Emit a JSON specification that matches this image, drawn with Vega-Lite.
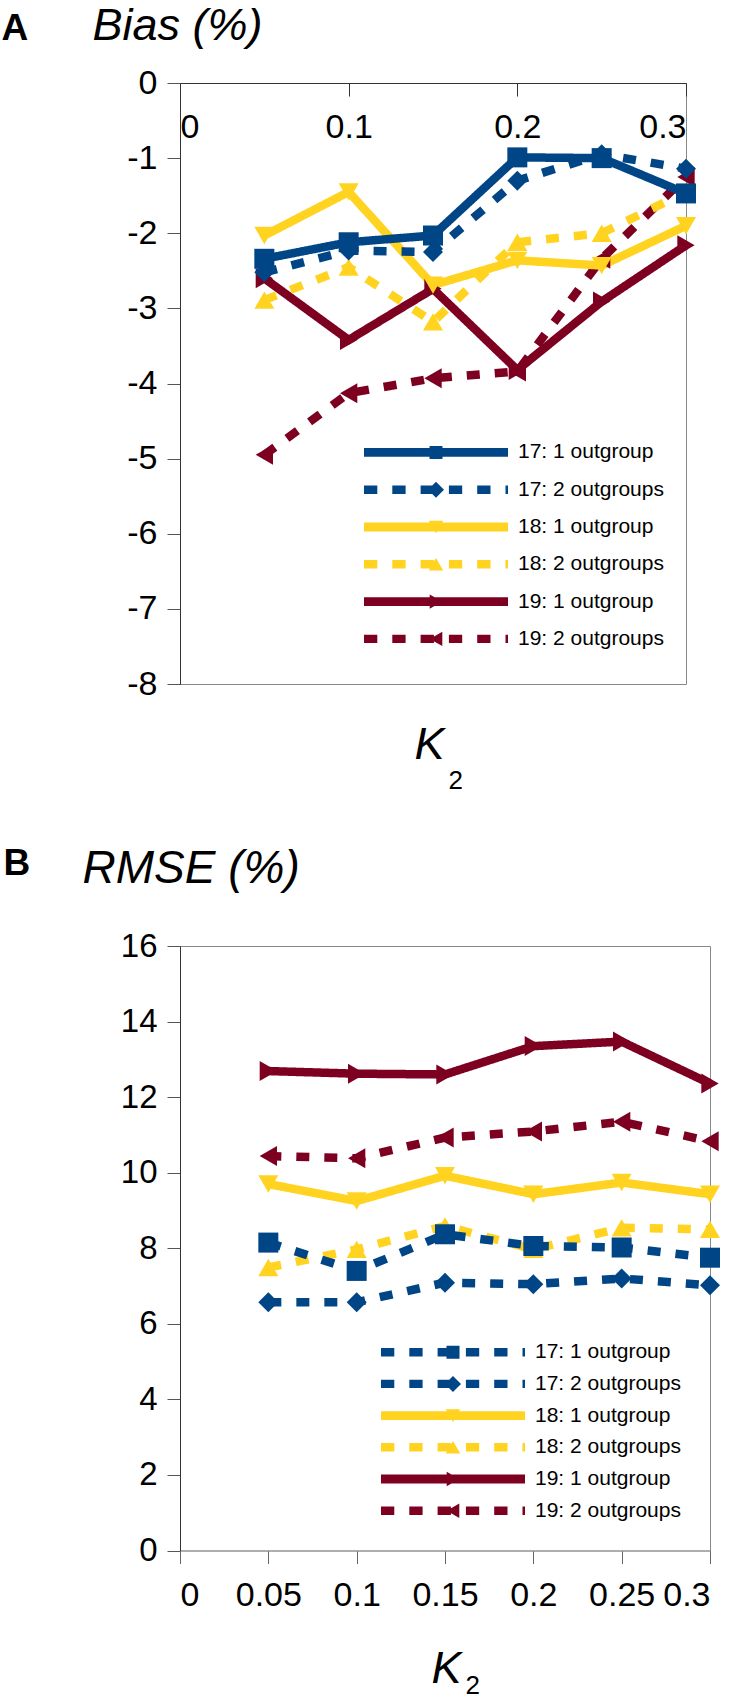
{
  "$schema": "https://vega.github.io/schema/vega-lite/v6.json",
  "padding": {"left": 0, "top": 2, "right": 0, "bottom": 0},
  "spacing": 49,
  "align": "none",
  "resolve": {"scale": {"color": "independent", "strokeDash": "independent", "shape": "independent"}, "legend": {"color": "independent", "strokeDash": "independent", "shape": "independent"}},
  "config": {
    "font": "Liberation Sans",
    "view": {"stroke": "#888888", "strokeWidth": 1},
    "axis": {"grid": false, "labelFont": "Liberation Sans", "labelColor": "#000000", "titleColor": "#000000", "domainColor": "#333333", "tickColor": "#555555", "tickSize": 13, "labelFontSize": 34, "domainWidth": 1, "tickWidth": 1, "titleFont": "Liberation Sans"},
    "legend": {"labelFont": "Liberation Sans", "labelFontSize": 21, "labelColor": "#000000"}
  },
  "datasets": {
    "bias": [
      {"k": 0.05, "series": "19: 2 outgroups", "value": -4.95}, {"k": 0.1, "series": "19: 2 outgroups", "value": -4.13}, {"k": 0.15, "series": "19: 2 outgroups", "value": -3.93}, {"k": 0.2, "series": "19: 2 outgroups", "value": -3.84}, {"k": 0.25, "series": "19: 2 outgroups", "value": -2.34}, {"k": 0.3, "series": "19: 2 outgroups", "value": -1.25},
      {"k": 0.05, "series": "19: 1 outgroup", "value": -2.6}, {"k": 0.1, "series": "19: 1 outgroup", "value": -3.42}, {"k": 0.15, "series": "19: 1 outgroup", "value": -2.74}, {"k": 0.2, "series": "19: 1 outgroup", "value": -3.82}, {"k": 0.25, "series": "19: 1 outgroup", "value": -2.91}, {"k": 0.3, "series": "19: 1 outgroup", "value": -2.16},
      {"k": 0.05, "series": "18: 2 outgroups", "value": -2.89}, {"k": 0.1, "series": "18: 2 outgroups", "value": -2.45}, {"k": 0.15, "series": "18: 2 outgroups", "value": -3.18}, {"k": 0.2, "series": "18: 2 outgroups", "value": -2.12}, {"k": 0.25, "series": "18: 2 outgroups", "value": -2.0}, {"k": 0.3, "series": "18: 2 outgroups", "value": -1.45},
      {"k": 0.05, "series": "18: 1 outgroup", "value": -2.03}, {"k": 0.1, "series": "18: 1 outgroup", "value": -1.45}, {"k": 0.15, "series": "18: 1 outgroup", "value": -2.69}, {"k": 0.2, "series": "18: 1 outgroup", "value": -2.36}, {"k": 0.25, "series": "18: 1 outgroup", "value": -2.43}, {"k": 0.3, "series": "18: 1 outgroup", "value": -1.9},
      {"k": 0.05, "series": "17: 2 outgroups", "value": -2.52}, {"k": 0.1, "series": "17: 2 outgroups", "value": -2.23}, {"k": 0.15, "series": "17: 2 outgroups", "value": -2.25}, {"k": 0.2, "series": "17: 2 outgroups", "value": -1.3}, {"k": 0.25, "series": "17: 2 outgroups", "value": -0.95}, {"k": 0.3, "series": "17: 2 outgroups", "value": -1.14},
      {"k": 0.05, "series": "17: 1 outgroup", "value": -2.34}, {"k": 0.1, "series": "17: 1 outgroup", "value": -2.12}, {"k": 0.15, "series": "17: 1 outgroup", "value": -2.03}, {"k": 0.2, "series": "17: 1 outgroup", "value": -0.99}, {"k": 0.25, "series": "17: 1 outgroup", "value": -1.0}, {"k": 0.3, "series": "17: 1 outgroup", "value": -1.47}
    ],
    "rmse": [
      {"k": 0.05, "series": "19: 2 outgroups", "value": 10.44}, {"k": 0.1, "series": "19: 2 outgroups", "value": 10.38}, {"k": 0.15, "series": "19: 2 outgroups", "value": 10.93}, {"k": 0.2, "series": "19: 2 outgroups", "value": 11.09}, {"k": 0.25, "series": "19: 2 outgroups", "value": 11.35}, {"k": 0.3, "series": "19: 2 outgroups", "value": 10.83},
      {"k": 0.05, "series": "19: 1 outgroup", "value": 12.69}, {"k": 0.1, "series": "19: 1 outgroup", "value": 12.62}, {"k": 0.15, "series": "19: 1 outgroup", "value": 12.6}, {"k": 0.2, "series": "19: 1 outgroup", "value": 13.35}, {"k": 0.25, "series": "19: 1 outgroup", "value": 13.47}, {"k": 0.3, "series": "19: 1 outgroup", "value": 12.36},
      {"k": 0.05, "series": "18: 2 outgroups", "value": 7.49}, {"k": 0.1, "series": "18: 2 outgroups", "value": 7.97}, {"k": 0.15, "series": "18: 2 outgroups", "value": 8.59}, {"k": 0.2, "series": "18: 2 outgroups", "value": 7.97}, {"k": 0.25, "series": "18: 2 outgroups", "value": 8.54}, {"k": 0.3, "series": "18: 2 outgroups", "value": 8.5},
      {"k": 0.05, "series": "18: 1 outgroup", "value": 9.7}, {"k": 0.1, "series": "18: 1 outgroup", "value": 9.25}, {"k": 0.15, "series": "18: 1 outgroup", "value": 9.92}, {"k": 0.2, "series": "18: 1 outgroup", "value": 9.43}, {"k": 0.25, "series": "18: 1 outgroup", "value": 9.74}, {"k": 0.3, "series": "18: 1 outgroup", "value": 9.43},
      {"k": 0.05, "series": "17: 2 outgroups", "value": 6.57}, {"k": 0.1, "series": "17: 2 outgroups", "value": 6.57}, {"k": 0.15, "series": "17: 2 outgroups", "value": 7.09}, {"k": 0.2, "series": "17: 2 outgroups", "value": 7.05}, {"k": 0.25, "series": "17: 2 outgroups", "value": 7.2}, {"k": 0.3, "series": "17: 2 outgroups", "value": 7.02},
      {"k": 0.05, "series": "17: 1 outgroup", "value": 8.15}, {"k": 0.1, "series": "17: 1 outgroup", "value": 7.4}, {"k": 0.15, "series": "17: 1 outgroup", "value": 8.37}, {"k": 0.2, "series": "17: 1 outgroup", "value": 8.06}, {"k": 0.25, "series": "17: 1 outgroup", "value": 8.02}, {"k": 0.3, "series": "17: 1 outgroup", "value": 7.75}
    ]
  },
  "vconcat": [
    {
      "width": 506,
      "height": 601,
      "data": {"name": "bias"},
      "resolve": {"axis": {"x": "independent", "y": "independent"}},
      "layer": [
        {
          "mark": {"type": "line", "strokeWidth": 8.5, "strokeCap": "butt", "strokeJoin": "miter"},
          "encoding": {
            "x": {"field": "k", "type": "quantitative", "scale": {"domain": [0, 0.3], "nice": false, "zero": false},
              "axis": {"orient": "bottom", "offset": -601, "values": [0, 0.1, 0.2, 0.3], "labelExpr": "'' + datum.value", "labelPadding": 14, "labelBaseline": "top", "domainColor": "#333333", "tickColor": "#333333",
                "title": "K", "titleFontStyle": "italic", "titleFontWeight": "normal", "titleFontSize": 45, "titleX": 234, "titleY": 675, "titleAlign": "left", "titleBaseline": "alphabetic", "titleAngle": 0}},
            "y": {"field": "value", "type": "quantitative", "scale": {"domain": [-8, 0], "nice": false, "zero": false},
              "axis": {"values": [0, -1, -2, -3, -4, -5, -6, -7, -8], "labelExpr": "'' + datum.value", "labelPadding": 10,
                "title": "Bias (%)", "titleFontStyle": "italic", "titleFontWeight": "normal", "titleFontSize": 45, "titleX": -88, "titleY": -44, "titleAlign": "left", "titleBaseline": "alphabetic", "titleAngle": 0}},
            "detail": {"field": "series"},
            "color": {"field": "series", "type": "nominal",
              "scale": {"domain": ["19: 2 outgroups", "19: 1 outgroup", "18: 2 outgroups", "18: 1 outgroup", "17: 2 outgroups", "17: 1 outgroup"], "range": ["#7e0021", "#7e0021", "#ffd320", "#ffd320", "#004586", "#004586"]},
              "legend": null},
            "strokeDash": {"field": "series", "type": "nominal",
              "scale": {"domain": ["17: 1 outgroup", "17: 2 outgroups", "18: 1 outgroup", "18: 2 outgroups", "19: 1 outgroup", "19: 2 outgroups"], "range": [[1, 0], [13, 15], [1, 0], [13, 15], [1, 0], [13, 15]]},
              "legend": {"orient": "none", "legendX": 184, "legendY": 357.4, "title": null, "padding": 0, "symbolSize": 576, "symbolStrokeWidth": 0, "labelOffset": 130, "rowPadding": 15.3, "labelLimit": 400, "labelFontSize": 21,
                "encode": {"symbols": {"update": {
                  "shape": {"signal": "datum.value === '17: 1 outgroup' ? 'M-1,-0.372H11V0.372H-1ZM4.458,-0.542H5.542V0.542H4.458Z' : datum.value === '17: 2 outgroups' ? 'M-1,-0.35H0.108V0.35H-1ZM1.358,-0.35H2.467V0.35H1.358ZM3.717,-0.35H4.825V0.35H3.717ZM6.075,-0.35H7.183V0.35H6.075ZM8.433,-0.35H9.542V0.35H8.433ZM10.792,-0.35H11V0.35H10.792ZM5,-0.667L5.667,0L5,0.667L4.333,0Z' : datum.value === '18: 1 outgroup' ? 'M-1,-0.372H11V0.372H-1ZM4.4,-0.525L5.6,-0.525L5,0.525Z' : datum.value === '18: 2 outgroups' ? 'M-1,-0.35H0.108V0.35H-1ZM1.358,-0.35H2.467V0.35H1.358ZM3.717,-0.35H4.825V0.35H3.717ZM6.075,-0.35H7.183V0.35H6.075ZM8.433,-0.35H9.542V0.35H8.433ZM10.792,-0.35H11V0.35H10.792ZM5,-0.525L5.6,0.525L4.4,0.525Z' : datum.value === '19: 1 outgroup' ? 'M-1,-0.372H11V0.372H-1ZM4.475,-0.6L5.525,0L4.475,0.6Z' : 'M-1,-0.35H0.108V0.35H-1ZM1.358,-0.35H2.467V0.35H1.358ZM3.717,-0.35H4.825V0.35H3.717ZM6.075,-0.35H7.183V0.35H6.075ZM8.433,-0.35H9.542V0.35H8.433ZM10.792,-0.35H11V0.35H10.792ZM5.525,-0.6L5.525,0.6L4.475,0Z'"},
                  "fill": {"signal": "indexof(datum.value, '17') === 0 ? '#004586' : indexof(datum.value, '18') === 0 ? '#ffd320' : '#7e0021'"},
                  "stroke": {"value": "transparent"},
                  "strokeWidth": {"value": 0},
                  "strokeDash": {"value": []},
                  "opacity": {"value": 1}
                }}}}}
          }
        },
        {
          "mark": {"type": "point", "filled": true, "opacity": 1, "size": 400},
          "encoding": {
            "x": {"field": "k", "type": "quantitative", "scale": {"domain": [0, 0.3], "nice": false, "zero": false},
              "axis": {"orient": "bottom", "offset": 0, "labels": false, "ticks": false, "domain": false,
                "title": "2", "titleFontStyle": "normal", "titleFontWeight": "normal", "titleFontSize": 26, "titleX": 268, "titleY": 104, "titleAlign": "left", "titleBaseline": "alphabetic", "titleAngle": 0}},
            "y": {"field": "value", "type": "quantitative", "scale": {"domain": [-8, 0], "nice": false, "zero": false},
              "axis": {"orient": "left", "labels": false, "ticks": false, "domain": false,
                "title": "A", "titleFontWeight": "bold", "titleFontSize": 37, "titleX": -179, "titleY": -44, "titleAlign": "left", "titleBaseline": "alphabetic", "titleAngle": 0}},
            "color": {"field": "series", "type": "nominal",
              "scale": {"domain": ["19: 2 outgroups", "19: 1 outgroup", "18: 2 outgroups", "18: 1 outgroup", "17: 2 outgroups", "17: 1 outgroup"], "range": ["#7e0021", "#7e0021", "#ffd320", "#ffd320", "#004586", "#004586"]},
              "legend": null},
            "shape": {"field": "series", "type": "nominal",
              "scale": {"domain": ["19: 2 outgroups", "19: 1 outgroup", "18: 2 outgroups", "18: 1 outgroup", "17: 2 outgroups", "17: 1 outgroup"], "range": ["triangle-left", "triangle-right", "triangle-up", "triangle-down", "diamond", "square"]},
              "legend": null}
          }
        }
      ]
    },
    {
      "width": 530,
      "height": 604.5,
      "data": {"name": "rmse"},
      "resolve": {"axis": {"x": "independent", "y": "independent"}},
      "layer": [
        {
          "mark": {"type": "line", "strokeWidth": 8.5, "strokeCap": "butt", "strokeJoin": "miter"},
          "encoding": {
            "x": {"field": "k", "type": "quantitative", "scale": {"domain": [0, 0.3], "nice": false, "zero": false},
              "axis": {"orient": "bottom", "values": [0, 0.05, 0.1, 0.15, 0.2, 0.25, 0.3], "labelExpr": "'' + datum.value", "labelPadding": 15, "labelBaseline": "top", "domainColor": "#999999", "tickColor": "#666666",
                "title": "K", "titleFontStyle": "italic", "titleFontWeight": "normal", "titleFontSize": 45, "titleX": 251, "titleY": 132, "titleAlign": "left", "titleBaseline": "alphabetic", "titleAngle": 0}},
            "y": {"field": "value", "type": "quantitative", "scale": {"domain": [0, 16], "nice": false, "zero": false},
              "axis": {"values": [0, 2, 4, 6, 8, 10, 12, 14, 16], "labelExpr": "'' + datum.value", "labelPadding": 10, "labelFontSize": 33,
                "title": "RMSE (%)", "titleFontStyle": "italic", "titleFontWeight": "normal", "titleFontSize": 46, "titleX": -98, "titleY": -64, "titleAlign": "left", "titleBaseline": "alphabetic", "titleAngle": 0}},
            "detail": {"field": "series"},
            "color": {"field": "series", "type": "nominal",
              "scale": {"domain": ["19: 2 outgroups", "19: 1 outgroup", "18: 2 outgroups", "18: 1 outgroup", "17: 2 outgroups", "17: 1 outgroup"], "range": ["#7e0021", "#7e0021", "#ffd320", "#ffd320", "#004586", "#004586"]},
              "legend": null},
            "strokeDash": {"field": "series", "type": "nominal",
              "scale": {"domain": ["17: 1 outgroup", "17: 2 outgroups", "18: 1 outgroup", "18: 2 outgroups", "19: 1 outgroup", "19: 2 outgroups"], "range": [[13, 15], [13, 15], [1, 0], [13, 15], [1, 0], [13, 15]]},
              "legend": {"orient": "none", "legendX": 201, "legendY": 394.2, "title": null, "padding": 0, "symbolSize": 576, "symbolStrokeWidth": 0, "labelOffset": 130, "rowPadding": 9.7, "labelLimit": 400, "labelFontSize": 21,
                "encode": {"symbols": {"update": {
                  "shape": {"signal": "datum.value === '17: 1 outgroup' ? 'M-1,-0.35H0.108V0.35H-1ZM1.358,-0.35H2.467V0.35H1.358ZM3.717,-0.35H4.825V0.35H3.717ZM6.075,-0.35H7.183V0.35H6.075ZM8.433,-0.35H9.542V0.35H8.433ZM10.792,-0.35H11V0.35H10.792ZM4.458,-0.542H5.542V0.542H4.458Z' : datum.value === '17: 2 outgroups' ? 'M-1,-0.35H0.108V0.35H-1ZM1.358,-0.35H2.467V0.35H1.358ZM3.717,-0.35H4.825V0.35H3.717ZM6.075,-0.35H7.183V0.35H6.075ZM8.433,-0.35H9.542V0.35H8.433ZM10.792,-0.35H11V0.35H10.792ZM5,-0.667L5.667,0L5,0.667L4.333,0Z' : datum.value === '18: 1 outgroup' ? 'M-1,-0.372H11V0.372H-1ZM4.4,-0.525L5.6,-0.525L5,0.525Z' : datum.value === '18: 2 outgroups' ? 'M-1,-0.35H0.108V0.35H-1ZM1.358,-0.35H2.467V0.35H1.358ZM3.717,-0.35H4.825V0.35H3.717ZM6.075,-0.35H7.183V0.35H6.075ZM8.433,-0.35H9.542V0.35H8.433ZM10.792,-0.35H11V0.35H10.792ZM5,-0.525L5.6,0.525L4.4,0.525Z' : datum.value === '19: 1 outgroup' ? 'M-1,-0.372H11V0.372H-1ZM4.475,-0.6L5.525,0L4.475,0.6Z' : 'M-1,-0.35H0.108V0.35H-1ZM1.358,-0.35H2.467V0.35H1.358ZM3.717,-0.35H4.825V0.35H3.717ZM6.075,-0.35H7.183V0.35H6.075ZM8.433,-0.35H9.542V0.35H8.433ZM10.792,-0.35H11V0.35H10.792ZM5.525,-0.6L5.525,0.6L4.475,0Z'"},
                  "fill": {"signal": "indexof(datum.value, '17') === 0 ? '#004586' : indexof(datum.value, '18') === 0 ? '#ffd320' : '#7e0021'"},
                  "stroke": {"value": "transparent"},
                  "strokeWidth": {"value": 0},
                  "strokeDash": {"value": []},
                  "opacity": {"value": 1}
                }}}}}
          }
        },
        {
          "mark": {"type": "point", "filled": true, "opacity": 1, "size": 400},
          "encoding": {
            "x": {"field": "k", "type": "quantitative", "scale": {"domain": [0, 0.3], "nice": false, "zero": false},
              "axis": {"orient": "bottom", "offset": 0, "labels": false, "ticks": false, "domain": false,
                "title": "2", "titleFontStyle": "normal", "titleFontWeight": "normal", "titleFontSize": 26, "titleX": 285, "titleY": 143, "titleAlign": "left", "titleBaseline": "alphabetic", "titleAngle": 0}},
            "y": {"field": "value", "type": "quantitative", "scale": {"domain": [0, 16], "nice": false, "zero": false},
              "axis": {"orient": "left", "labels": false, "ticks": false, "domain": false,
                "title": "B", "titleFontWeight": "bold", "titleFontSize": 37, "titleX": -177, "titleY": -72, "titleAlign": "left", "titleBaseline": "alphabetic", "titleAngle": 0}},
            "color": {"field": "series", "type": "nominal",
              "scale": {"domain": ["19: 2 outgroups", "19: 1 outgroup", "18: 2 outgroups", "18: 1 outgroup", "17: 2 outgroups", "17: 1 outgroup"], "range": ["#7e0021", "#7e0021", "#ffd320", "#ffd320", "#004586", "#004586"]},
              "legend": null},
            "shape": {"field": "series", "type": "nominal",
              "scale": {"domain": ["19: 2 outgroups", "19: 1 outgroup", "18: 2 outgroups", "18: 1 outgroup", "17: 2 outgroups", "17: 1 outgroup"], "range": ["triangle-left", "triangle-right", "triangle-up", "triangle-down", "diamond", "square"]},
              "legend": null}
          }
        }
      ]
    }
  ]
}
